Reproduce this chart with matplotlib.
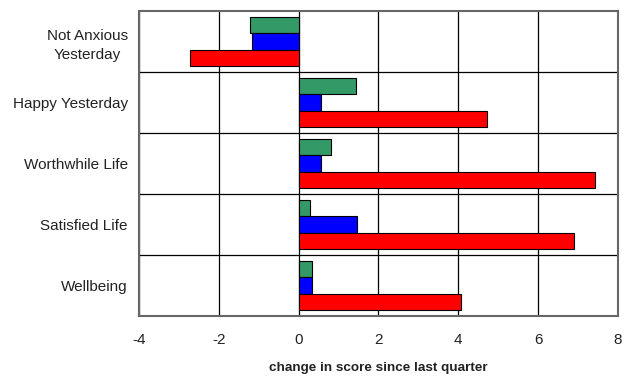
import numpy as np
import matplotlib.pyplot as plt

plt.rcParams['font.family'] = ['Liberation Sans', 'DejaVu Sans']

categories = ['Not Anxious\nYesterday', 'Happy Yesterday', 'Worthwhile Life',
              'Satisfied Life', 'Wellbeing']
green_vals = [-1.22, 1.44, 0.81, 0.28, 0.34]
blue_vals = [-1.18, 0.56, 0.55, 1.46, 0.34]
red_vals = [-2.73, 4.72, 7.43, 6.89, 4.07]
xticks = [-4, -2, 0, 2, 4, 6, 8]

fig = plt.figure(figsize=(6.25, 3.78), dpi=100)
ax = fig.add_axes([0.2224, 0.164, 0.7664, 0.807])

y = np.arange(len(categories))
h = 0.27
ax.barh(y - h, green_vals, height=h, color='#339966', edgecolor='black', linewidth=0.8, zorder=3)
ax.barh(y, blue_vals, height=h, color='#0000FF', edgecolor='black', linewidth=0.8, zorder=3)
ax.barh(y + h, red_vals, height=h, color='#FF0000', edgecolor='black', linewidth=0.8, zorder=3)

ax.set_xlim(-4, 8)
ax.set_ylim(len(categories) - 0.5, -0.5)
ax.set_xticks(xticks)
ax.set_xticklabels([str(v) for v in xticks], fontsize=11, color='#222222')
ax.set_yticks(y)
ax.set_yticklabels(categories, fontsize=11, multialignment='center', color='#222222',
                   linespacing=1.45)
ax.set_yticks(np.arange(len(categories) - 1) + 0.5, minor=True)
ax.tick_params(axis='both', which='both', length=0)
ax.tick_params(axis='x', pad=12)
ax.tick_params(axis='y', pad=8)

ax.grid(axis='x', which='major', color='black', linewidth=0.9, zorder=1)
ax.grid(axis='y', which='minor', color='black', linewidth=0.9, zorder=1)
for s in ax.spines.values():
    s.set_color('#666666')
    s.set_linewidth(1.5)

ax.set_xlabel('change in score since last quarter', fontsize=9.7, fontweight='bold',
              color='#222222', labelpad=11)

fig.savefig('out.png', dpi=100)
